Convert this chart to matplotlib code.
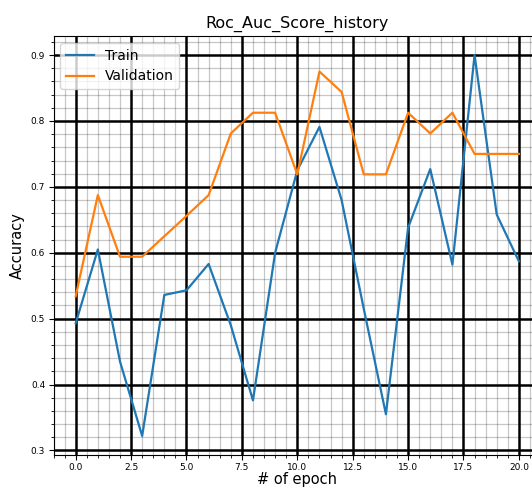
import matplotlib
matplotlib.use("Agg")
import matplotlib.pyplot as plt
from matplotlib.ticker import MultipleLocator

# roc auc per epoch
epochs = list(range(21))
train_auc = [0.493, 0.605, 0.435, 0.322, 0.536, 0.543, 0.583, 0.49, 0.376, 0.6, 0.725,
             0.791, 0.68, 0.515, 0.355, 0.638, 0.727, 0.582, 0.9, 0.658, 0.587]
val_auc = [0.534, 0.6875, 0.594, 0.594, 0.625, 0.656, 0.6875, 0.781, 0.8125, 0.8125, 0.719,
           0.875, 0.844, 0.719, 0.719, 0.8125, 0.781, 0.8125, 0.75, 0.75, 0.75]

fig = plt.figure(figsize=(5.32, 4.88), dpi=100)
# axes run a little past the right edge, as in the cropped original
ax = fig.add_axes([0.1006, 0.0676, 0.9164, 0.8586])

ax.plot(epochs, train_auc, color="#1f77b4", linewidth=1.6, label="Train")
ax.plot(epochs, val_auc, color="#ff7f0e", linewidth=1.6, label="Validation")

ax.xaxis.set_major_locator(MultipleLocator(2.5))
ax.xaxis.set_minor_locator(MultipleLocator(0.5))
ax.yaxis.set_major_locator(MultipleLocator(0.1))
ax.yaxis.set_minor_locator(MultipleLocator(0.02))

ax.grid(True, which="major", color="black", linestyle="-", linewidth=1.8)
ax.grid(True, which="minor", color="black", linestyle="-", linewidth=0.9, alpha=0.22)
ax.tick_params(axis="both", which="major", labelsize=6.5, pad=2.5)

ax.set_title("Roc_Auc_Score_history", fontsize=11.5)
ax.set_xlabel("# of epoch", fontsize=10.5, labelpad=0)
ax.set_ylabel("Accuracy", fontsize=10.5)
ax.legend(loc="upper left", fontsize=10)

fig.savefig("out.png", dpi=100)
